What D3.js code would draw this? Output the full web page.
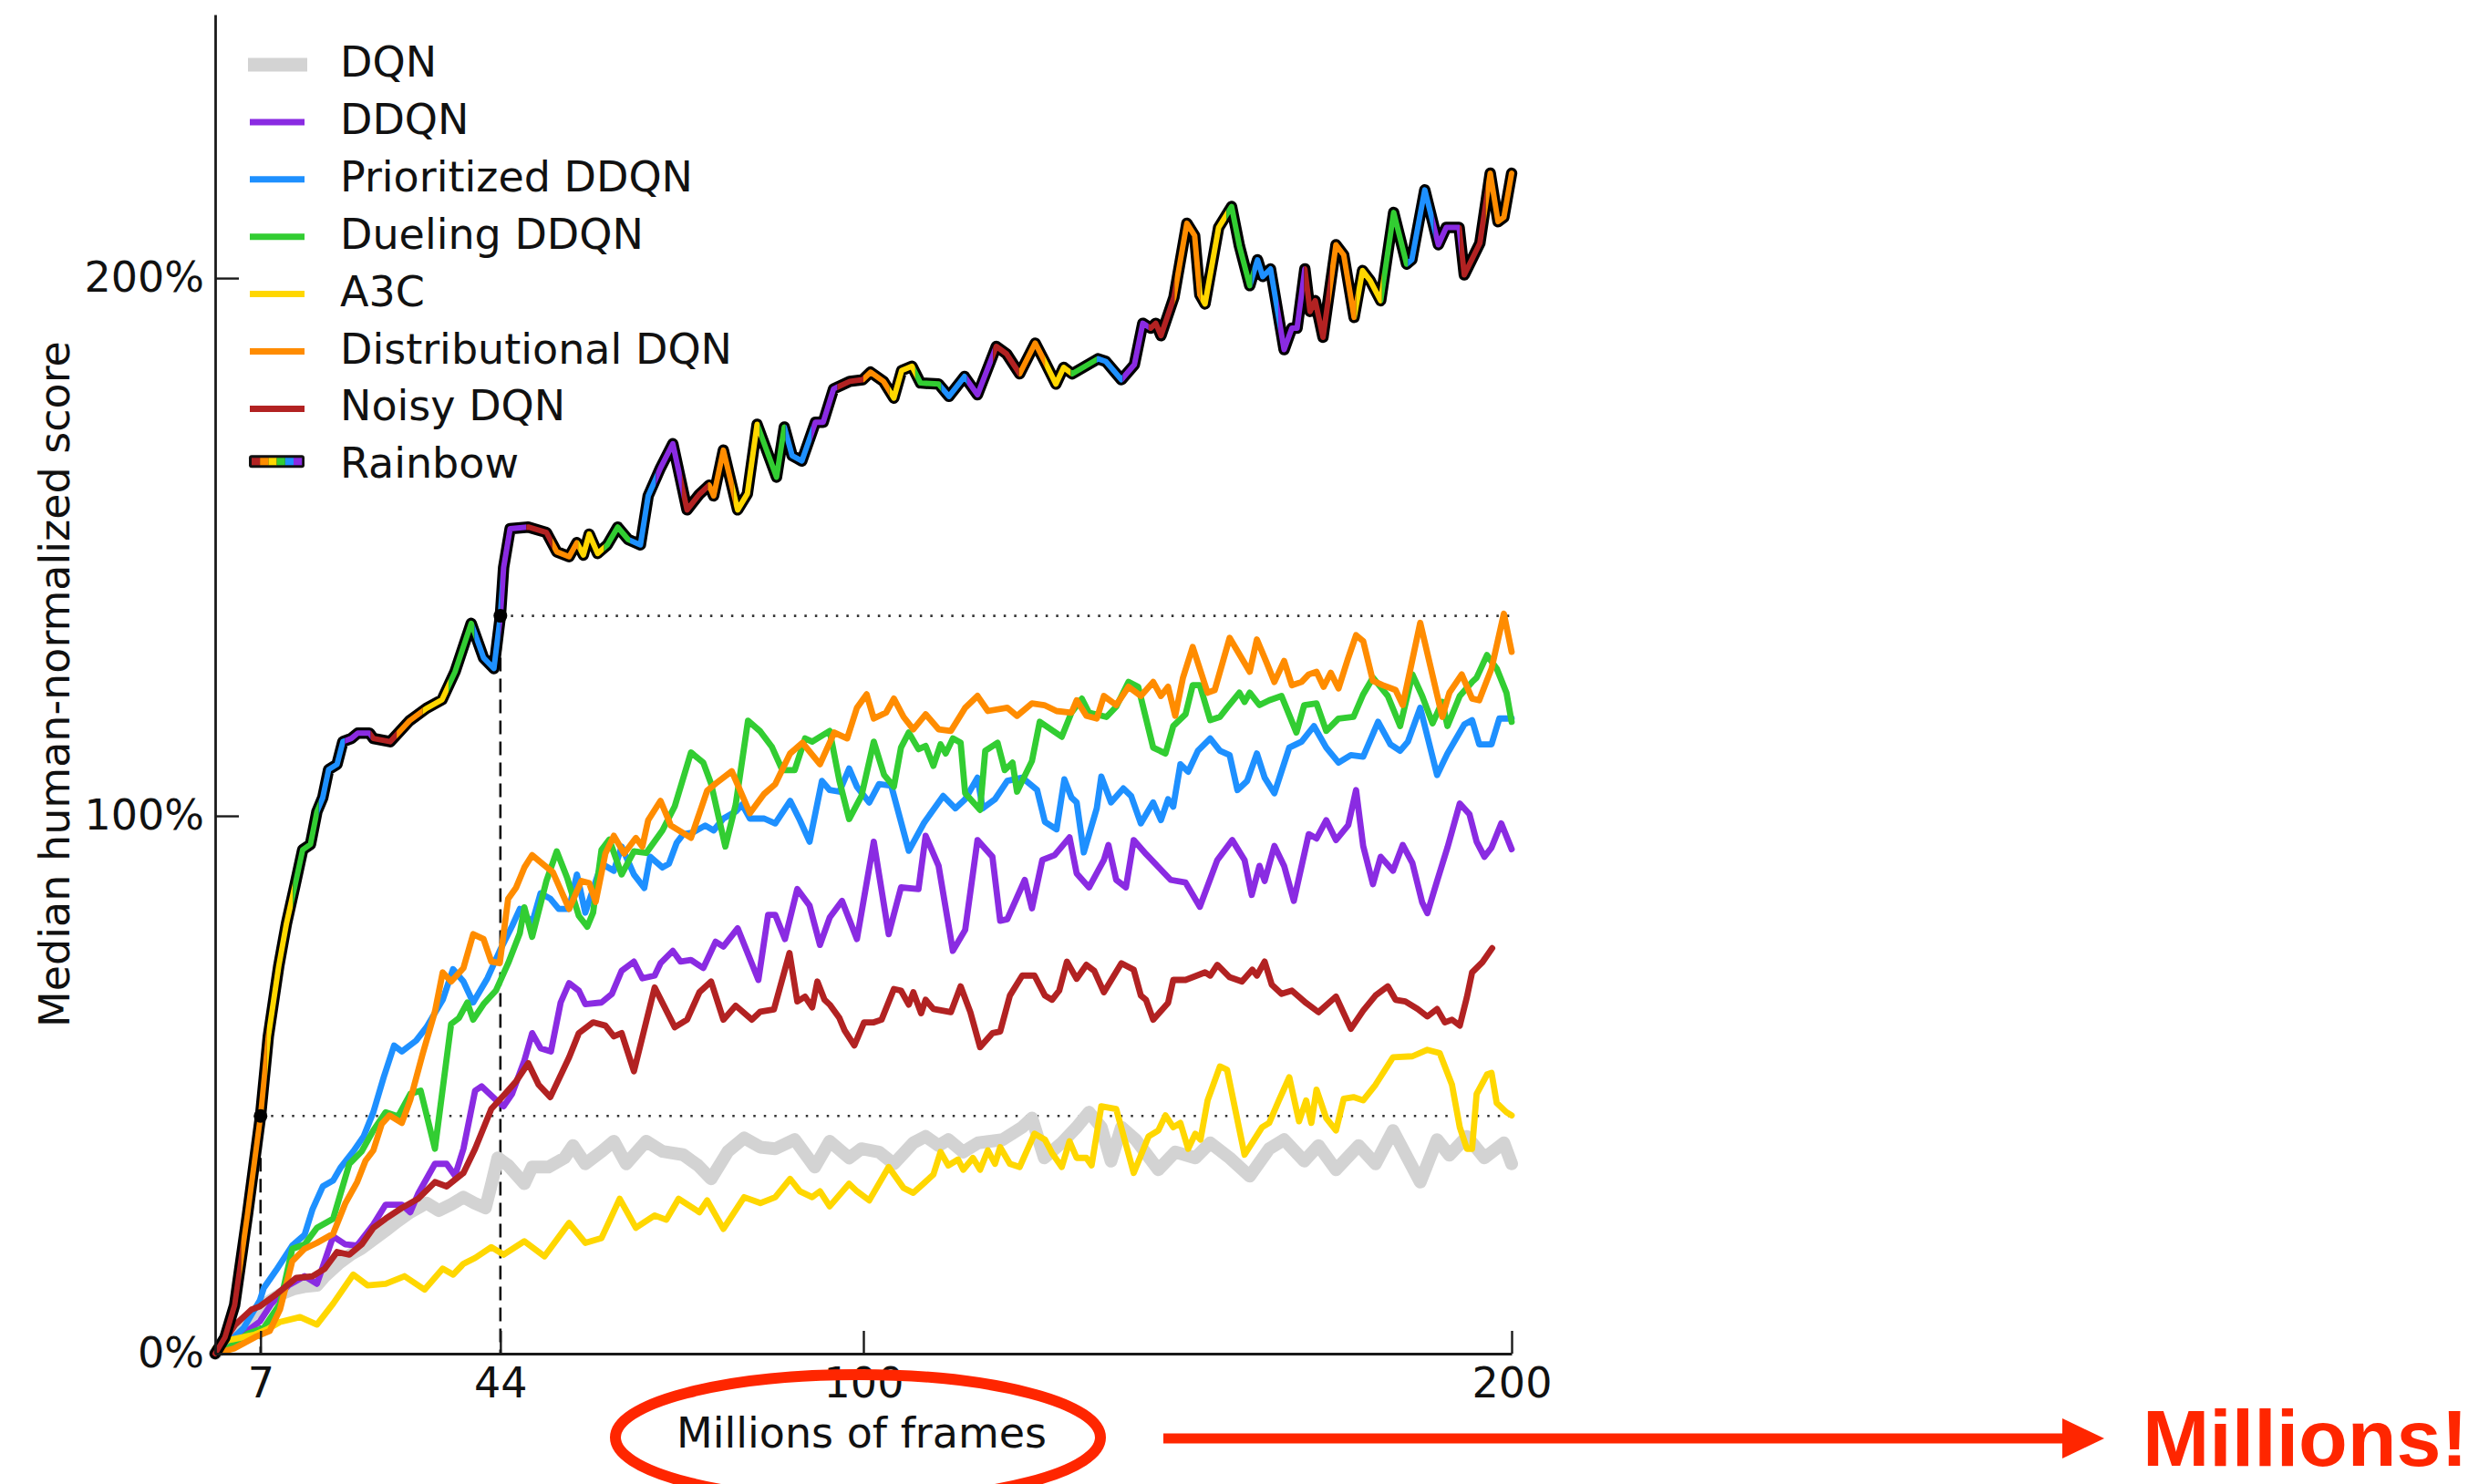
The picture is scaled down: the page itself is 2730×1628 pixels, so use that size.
<!DOCTYPE html>
<html>
<head>
<meta charset="utf-8">
<script src="https://cdn.jsdelivr.net/npm/d3@7/dist/d3.min.js"></script>
<style>
  html, body { margin: 0; padding: 0; background: #fff; }
  svg { display: block; }
</style>
</head>
<body>
<script>
// Median human-normalized score (%) against millions of training frames.
// Each series is a list of [frames (M), score (%)] samples.

const dqn = [[0,0],[2,2],[4,5],[6,7.5],[8,9.5],[10,11],[12,12],[14,12.5],[15.7,12.7],[17,14.5],[19,16.7],[21,18.5],[22.5,19.5],[24.4,21.2],[26.3,22.9],[28,24.5],[30.1,26.3],[32.6,28],[34.5,26.6],[36.5,27.8],[38.3,29.1],[40,28],[41.7,27.1],[42.6,31.4],[43.6,36.4],[45.2,35],[47.7,31.6],[48.9,34.7],[51.4,34.7],[53.9,36.4],[55.2,38.7],[57.1,35.3],[59.5,37.5],[61.5,39.5],[63.4,35.3],[66.5,39.5],[69,37.6],[72.2,37],[74.5,35],[76.5,32.5],[79.1,37.6],[81.6,40.1],[84.1,38.4],[86.4,38.1],[89.4,39.8],[92.5,34.7],[94.8,39.5],[97.8,36.4],[99.7,38.1],[102.4,37.5],[104.7,35.3],[107.7,39.2],[109.6,40.4],[111.6,38.7],[113.1,39.8],[115.4,37.5],[117.7,39.2],[121.5,39.8],[124.5,42.1],[126,43.8],[127.9,36.4],[130.6,39.2],[132.9,42.1],[134.8,44.9],[136.7,42.1],[138.2,35.8],[139.8,42.1],[142,39.8],[145.5,34.2],[148.1,37.5],[151.2,36.4],[153.5,39.2],[156.5,36.4],[159.6,33],[162.6,38.1],[164.9,39.8],[168,35.8],[170.2,38.7],[172.9,34.2],[176.4,38.7],[179,35.3],[181.7,41.5],[185.9,31.9],[188.5,39.8],[190.4,36.9],[193.1,40.4],[195.8,36.4],[198.8,39.2],[200,35.3]];

const ddqn = [[0,0],[2,1.5],[4.4,3.7],[6.9,6],[8.7,9.3],[11.3,12.7],[13.8,14.4],[15.7,13],[18.2,21.8],[20.1,20.3],[21.9,20.1],[24.4,24],[26.3,27.7],[28.8,27.7],[30.1,26.3],[31.3,29.7],[33.9,35.3],[35.7,35.3],[37,33.1],[38.3,38.1],[40.1,48.9],[41.1,49.7],[43.3,47.2],[44.5,46],[45.8,48.3],[47.7,54.5],[48.9,59.6],[50.2,56.8],[51.8,56.2],[53.3,65.3],[54.6,68.9],[56.1,67.5],[57.1,65],[59.6,65.3],[61.2,66.9],[62.7,71.2],[64.6,72.9],[65.9,69.8],[67.8,70.3],[68.7,72.6],[70.6,74.9],[71.8,72.9],[73.4,73.2],[75.3,71.7],[77.2,76.6],[78.4,75.7],[80.6,79.1],[83.8,69.5],[85.3,81.6],[86.4,81.6],[87.9,77.1],[89.8,86.4],[91.7,83.3],[93.3,76],[94.8,81.1],[96.7,84.2],[99,77.1],[101.6,95.2],[103.9,78],[105.8,86.7],[108.5,86.4],[109.6,96.3],[111.6,90.7],[113.8,74.9],[115.7,78.8],[117.6,95.5],[119.9,92.4],[121.1,80.5],[122.2,80.8],[124.9,88.1],[126,82.8],[127.6,91.8],[129.5,92.7],[131.8,96],[132.9,89.3],[134.8,86.7],[137.1,91.8],[137.8,94.6],[139,88.1],[140.5,86.7],[141.7,95.5],[143.6,92.9],[147.4,88.1],[149.7,87.6],[151.9,83.1],[154.6,91.8],[156.9,95.5],[158.8,91.8],[159.9,85.3],[161.1,90.7],[161.9,87.9],[163.4,94.4],[164.9,90.7],[166.4,84.2],[168.7,96.6],[169.9,95.8],[171.4,99.2],[172.9,95.5],[174.8,98.3],[176,104.8],[177.1,94.4],[178.6,87.3],[179.8,92.4],[181.7,89.8],[183.2,94.6],[184.7,91.2],[186.2,83.9],[187,81.9],[188.5,87.9],[190.1,94.1],[192,102.3],[193.5,100.3],[194.6,95.2],[195.8,92.4],[196.9,94.1],[198.4,98.6],[200,93.8]];

const prioritizedDdqn = [[0,0],[2,2],[4.4,4.8],[6.9,9.9],[7.5,12.2],[9.4,15.5],[11.9,20.1],[13.8,22.1],[15,26.8],[16.6,31.1],[18.2,32.2],[19.4,34.7],[21.3,37.6],[22.9,40.4],[24.4,44.9],[26,51.4],[27.6,57.3],[28.8,56.2],[31,58.2],[32.6,60.7],[35.1,65.8],[36.7,71.5],[38.3,69.2],[39.8,65.3],[42,69.8],[43.9,74.9],[45.8,79.5],[47,82.7],[48.9,80.1],[50.2,85.6],[51.7,84.6],[53,82.7],[54.6,82.7],[55.8,89.1],[57.1,82],[59.6,91.1],[61.5,89.8],[62.7,94.3],[64.6,89.1],[66.2,86.6],[67.1,92.4],[69,90.4],[70,91.1],[71.2,95],[72.2,96.6],[73.7,96.9],[75.6,98.2],[76.9,97.3],[78.4,99.5],[80.3,100.8],[81.3,102.1],[82.5,99.5],[84.7,99.5],[86.4,98.6],[88.7,102.8],[90.2,99.2],[91.7,95.2],[93.6,106.5],[94.8,104.8],[96.3,104.5],[97.8,108.8],[99,105.4],[100.9,102.5],[102.4,105.9],[104.3,105.6],[107,93.5],[109.3,98.6],[112.3,103.7],[114.2,101.4],[115.7,103.1],[117.6,107.1],[118.4,101.4],[120.3,103.1],[122.2,106.5],[124.5,107.1],[126.8,104.8],[128,98.9],[129.8,97.5],[131,106.8],[132.1,103.4],[132.9,102.5],[134,93.2],[136,101.4],[136.7,107.3],[138.2,102.5],[140.1,105.1],[141.3,103.7],[142.8,98.6],[144.7,102.5],[145.9,99.2],[147,103.1],[147.8,101.7],[148.9,109.6],[150.1,108.2],[151.6,112.1],[153.5,114.4],[155,112.1],[156.5,111.3],[157.7,104.8],[159.2,106.5],[160.7,111.6],[161.9,107.1],[163.4,104.2],[165.7,112.7],[167.6,113.8],[169.5,116.7],[171.4,112.7],[173.3,109.9],[175.2,111.3],[177.1,111],[179.4,117.5],[181.3,113.3],[182.8,112.1],[184,113.8],[185.9,120.1],[188.5,107.6],[190.1,111.6],[192.7,117],[193.9,117.8],[195,113.3],[196.9,113.3],[198.1,118.1],[200,118.1]];

const duelingDdqn = [[0,0],[2,1],[5,3.7],[7.5,4.8],[10,9.3],[11.9,19.5],[13.8,20.3],[15.7,23.4],[18.2,25.1],[20.7,35.3],[22.6,37.6],[24.4,41.5],[26.3,44.9],[28.2,44.1],[30.1,48.3],[31.7,48.9],[33.9,38.1],[36.4,61.3],[37.6,62.4],[38.9,65.3],[39.8,62.1],[41.4,65],[43.3,67.5],[45.2,72.6],[47,78.2],[47.7,83],[48.9,77.5],[51.1,87.9],[52.7,93.4],[54.3,88.5],[56.1,81.4],[57.4,79.4],[58.3,82],[59.6,93.7],[60.8,95.6],[62.7,89.1],[64.6,93.4],[66.5,93.1],[69,97.3],[70.9,101.8],[73.4,111.8],[75.3,109.9],[76.5,106],[78.7,94.3],[80.3,102.1],[82.2,117.7],[84.1,115.7],[85.9,112.8],[87.5,108.5],[89.4,108.5],[91,114.4],[92.1,113.8],[93.3,114.7],[94.8,115.8],[96.3,106.5],[97.8,99.4],[99.7,103.7],[101.6,113.8],[103.2,107.6],[104.7,105.4],[105.8,112.7],[107,115.5],[108.5,112.4],[109.6,113],[110.8,109.3],[111.9,113.3],[112.7,111.6],[113.8,114.4],[115,113.6],[115.7,104.2],[118,101.1],[118.8,112.1],[120.7,113.6],[121.8,108.5],[123,109.9],[123.7,104.5],[126,110.2],[127.2,117.5],[130.6,114.7],[132.1,119.2],[133.7,121.8],[134.8,119.2],[137.5,118.4],[139,120.3],[140.9,124.9],[142.4,124],[144.7,112.7],[146.6,111.6],[147.8,116.7],[149.7,118.9],[150.8,124.3],[151.9,124.3],[153.5,117.8],[155,118.4],[156.1,120.1],[158,122.9],[158.8,121.2],[159.6,122.9],[161.1,120.6],[162.6,121.5],[164.5,122.3],[166.8,115.5],[168,120.6],[169.9,120.9],[171.4,115.8],[173.3,118.1],[175.6,118.4],[177.1,122.6],[178.6,125.7],[180.9,122.3],[182.8,116.7],[184.7,126.3],[186.2,122.3],[187.8,117.2],[189.3,121.2],[190.1,116.7],[192,122.3],[193.9,124.9],[194.6,125.7],[196.2,129.9],[197.7,127.4],[199.2,122.9],[200,117.5]];

const a3c = [[0,1],[2,2.5],[4,3],[6,3.5],[8,4.5],[10,5.9],[13.1,6.8],[15.7,5.4],[18.2,9.3],[21.3,14.7],[23.5,12.7],[26.3,13],[29.2,14.4],[32.3,11.9],[35.1,15.8],[36.7,14.7],[38.3,16.7],[40.1,17.8],[42.6,19.8],[44.5,18.4],[47.7,20.9],[50.8,18.1],[54.6,24.3],[57.1,20.6],[59.6,21.5],[62.4,28.8],[64.9,23.4],[67.8,25.7],[69.6,24.9],[71.5,28.8],[74.7,26.3],[75.9,28.5],[78.4,23.2],[81.6,29.1],[84.1,28],[86.4,29.1],[88.7,32.5],[90.2,30.2],[92.1,29.1],[93.3,30.2],[94.8,27.4],[97.8,31.6],[99,30.2],[100.9,28.5],[103.9,34.7],[106.2,30.8],[107.7,29.9],[110.8,33.3],[111.9,37.5],[113.1,35],[114.6,36.1],[115.4,34.2],[116.9,36.4],[118,34.2],[119.2,37.8],[120.3,35.3],[121.1,38.4],[122.6,35.3],[124.1,34.7],[126.4,40.9],[128,39.8],[129.1,37.3],[130.6,34.7],[131.8,39.5],[132.9,36.4],[134.4,36.4],[135.2,35],[136.7,46],[139,45.5],[141.7,33.6],[144,40.4],[145.5,41.5],[146.6,44.3],[147.8,42.1],[148.9,42.9],[150.1,38.1],[151.2,40.9],[152,39.8],[153.1,47.1],[155,53.4],[156.1,52.8],[158.8,37],[161.5,42.1],[162.6,42.9],[164.1,47.1],[165.7,51.4],[167.2,43.2],[168.3,47.1],[169.1,42.9],[169.9,49.1],[171.4,43.8],[172.9,41.5],[174.1,47.4],[175.6,47.7],[177.1,47.1],[179,50],[181.7,55.1],[184.7,55.3],[187,56.5],[188.9,55.9],[190.8,50],[192,42.1],[193.1,38.1],[193.9,38.1],[194.6,48.3],[196.2,51.9],[196.9,52.2],[197.7,46.6],[199.2,44.9],[200,44.3]];

const distributionalDqn = [[0,0],[3,1],[6.2,3.1],[8.4,4.2],[10,8.2],[11.9,17.2],[13.8,19.5],[15.7,20.6],[18.2,22.3],[20.1,28],[21.9,31.9],[23.2,35.9],[24.4,37.8],[25.7,42.7],[26.9,44.3],[28.8,42.9],[30.1,47.2],[32,55.7],[33.9,63.6],[35.1,70.9],[36.4,69.2],[38.3,71.7],[39.8,78],[41.4,77.1],[42.6,72.9],[43.9,72.6],[45.2,84.6],[46.4,86.6],[47.7,90.4],[48.9,92.7],[50.5,91.1],[52.1,89.5],[54.6,82.7],[56.5,87.9],[57.7,87.5],[58.7,84],[60.2,93],[61.5,96.3],[63.1,93],[64.9,95.9],[65.9,94.3],[66.8,99.2],[68.7,102.8],[70.3,98.2],[73.4,95.9],[75.9,104.7],[77.2,106],[79.7,108.3],[82.5,100.5],[84.7,104.1],[86.4,105.9],[88.7,111.6],[90.6,113.6],[93.3,109.6],[95.5,115.5],[97.5,114.4],[99,120.1],[100.5,122.6],[101.6,118.1],[103.5,119.2],[104.7,121.8],[106.2,118.4],[107.7,116.1],[109.6,118.9],[111.6,116.1],[113.5,115.8],[115.7,120.1],[117.6,122.3],[119.2,119.5],[122.2,120.1],[123.7,118.6],[126,120.9],[127.9,120.6],[129.8,119.5],[132.1,119.2],[132.9,121.5],[134.4,118.6],[136,118.1],[137.1,122.3],[139,120.6],[140.9,124],[142.8,122.3],[144.7,124.9],[145.9,122.3],[147,124],[148.1,118.6],[149.3,125.7],[150.8,131.4],[153.1,122.9],[154.2,123.4],[156.5,133.1],[159.6,126.8],[160.7,132.8],[162.2,128.5],[163.4,124.9],[164.9,128.8],[166.1,124.3],[167.6,124.9],[168.7,126.3],[169.9,126.8],[171,124],[172.1,126.6],[173.3,123.7],[174.8,129.4],[176,133.6],[177.1,132.5],[178.6,125.1],[180.1,124.3],[182.1,123.4],[183.2,120.6],[185.9,135.9],[189.3,118.4],[190.4,122.9],[192.3,126.3],[193.9,121.8],[195,121.5],[196.9,127.4],[198.8,137.6],[200,130.5]];

const noisyDqn = [[0,0],[1.5,2.5],[3.1,5.4],[5.6,8.2],[6.9,8.8],[9.4,11],[12.5,14.1],[15,14.4],[16.9,15.8],[18.8,18.9],[20.7,18.4],[22.6,20.3],[24.4,23.4],[26.3,25.1],[28.8,27.1],[31.3,28.8],[33.9,31.9],[35.7,31.1],[38.3,33.6],[40.1,38.1],[42.6,45.5],[44.5,48],[46.4,50.6],[48.3,54],[49.9,50],[51.7,47.7],[54.6,55.1],[56.1,59.6],[58.3,61.6],[60.2,61],[61.5,59],[62.7,59.6],[64.6,52.5],[67.8,68.1],[70.9,60.7],[72.8,62.1],[74.7,67.2],[76.5,69.2],[78.4,62.1],[80.3,64.7],[82.8,62.1],[84.1,63.6],[86.2,64],[88.6,74.5],[89.8,65.5],[91,66.4],[92.1,64.4],[92.9,69.2],[94,65.8],[94.8,64.9],[96.3,62.4],[97.1,60.1],[98.6,57.3],[100.1,61.6],[101.6,61.6],[102.8,62.1],[104.7,67.8],[105.8,67.5],[107,64.9],[107.7,67.2],[108.9,63.3],[109.6,65.8],[110.8,64.1],[113.5,63.5],[115,68.3],[116.5,63.5],[118,57],[119.9,59.6],[121.1,59.9],[122.6,66.6],[124.5,70.3],[126.4,70.3],[128,66.6],[129.1,65.8],[130.2,67.5],[131.4,72.9],[132.9,69.7],[134.4,72.3],[135.6,71.2],[137.1,67.2],[139.8,72.6],[141.7,71.4],[142.8,66.6],[143.6,65.8],[144.7,62.1],[147,65.2],[147.8,69.5],[149.7,69.5],[150.8,70],[152.7,70.9],[153.5,70.3],[154.6,72.3],[156.5,70],[158.4,69.2],[160,71.4],[160.7,70.3],[161.9,72.9],[163,68.6],[164.5,66.9],[166.1,67.5],[168.3,65.2],[170.2,63.5],[172.9,66.4],[175.2,60.4],[177.1,63.8],[179,66.6],[180.9,68.3],[182.1,65.8],[183.6,65.5],[185.5,64.1],[187,62.7],[188.5,64.1],[189.7,61.6],[190.8,62.1],[192,61],[193.1,66.3],[193.9,70.9],[195.5,72.8],[197,75.4]];

const rainbow = [[0,0],[1.5,3],[3,9],[5,26],[7,44.2],[8.2,59],[9.8,72],[11,80],[12.3,87],[13.5,93.7],[14.7,94.7],[15.7,100.8],[16.6,103.4],[17.5,108.6],[18.8,109.6],[19.7,113.8],[21,114.4],[22,115.4],[23.8,115.4],[24.4,114.4],[27,113.8],[30,117.7],[32.6,120],[35,121.6],[37,126.8],[39.5,135.8],[41.4,129.4],[43,127.4],[44,137.2],[44.5,146.2],[45.5,153.4],[48.3,153.7],[51.1,152.7],[52.7,149.1],[54.6,148.2],[55.8,150.8],[56.8,148.5],[57.7,152.4],[59,148.8],[60.5,150.4],[62.1,153.7],[63.7,151.4],[65.6,150.4],[66.8,159.5],[68.7,164.7],[70.6,169.2],[72.8,156.9],[74.7,159.8],[76.2,161.5],[76.9,159.5],[78.4,168],[80.6,156.9],[82.1,159.9],[83.6,172.8],[86.6,163],[87.8,172.3],[89,167],[90.5,166],[92.6,173.2],[93.8,173.2],[95.4,179.4],[97.9,180.8],[99.9,181.1],[101.1,182.5],[103.1,180.8],[104.7,177.7],[105.9,182.8],[107.5,183.6],[108.8,180.5],[111.6,180.3],[113.2,178],[115.6,181.7],[117.6,178.3],[120.5,187.3],[122.1,185.9],[124.1,182.2],[126.5,187.9],[128.1,184.2],[129.7,180.3],[130.9,183.4],[132.2,182.2],[136.2,185],[137.4,184.5],[139.8,181.1],[141.8,183.9],[143.1,191.6],[144.3,190.7],[145.1,191.6],[145.9,189.3],[147.9,196.4],[149.9,210.2],[151.1,207.9],[151.9,196.9],[152.7,195.2],[154.8,209.4],[156.8,213.3],[158,206],[159.6,198.6],[160.8,203.4],[161.6,200.3],[162.8,201.7],[164.9,186.7],[166.1,190.7],[166.9,190.7],[168.1,201.7],[168.9,193.8],[169.7,195.8],[170.9,189],[172.9,206.2],[174.1,204.3],[175.7,192.7],[177,201.4],[178.2,199.5],[179.8,195.8],[181.8,212.2],[183.8,202.6],[184.6,203.4],[186.6,216.4],[188.7,206.2],[189.9,209.4],[191.9,209.4],[192.7,200.6],[195.1,206.5],[196.7,219.5],[197.9,210.5],[198.8,211.3],[200,219.5]];

// Where Rainbow first reaches the final DQN score and the best baseline score.
const milestones = [{ frames: 7, score: 44.2 }, { frames: 44, score: 137.2 }];

const seriesNames = ["DQN", "DDQN", "Prioritized DDQN", "Dueling DDQN", "A3C", "Distributional DQN", "Noisy DQN", "Rainbow"];
const seriesData = [dqn, ddqn, prioritizedDdqn, duelingDdqn, a3c, distributionalDqn, noisyDqn];
const seriesColors = ["#d3d3d3", "#8a2be2", "#1e90ff", "#32cd32", "#ffd700", "#ff8c00", "#b22222"];
const seriesWidths = [14, 6.8, 6.8, 6.8, 6.8, 6.8, 6.8];
const rainbowColors = ["#b22222", "#ff8c00", "#ffd700", "#32cd32", "#1e90ff", "#8a2be2"];
const rainbowSegment = 4; // millions of frames per colour band

const xTicks = [7, 44, 100, 200];
const yTicks = [0, 100, 200];
const xLabel = "Millions of frames";
const yLabel = "Median human-normalized score";
const callout = "Millions!";

const W = 2730, H = 1628;
const FONT = "'DejaVu Sans', sans-serif";
const FS = "46px";
const RED = "#ff2600";

const svg = d3.select("body").append("svg")
  .attr("width", W).attr("height", H)
  .attr("viewBox", `0 0 ${W} ${H}`);
svg.append("rect").attr("width", W).attr("height", H).attr("fill", "#fff");

const x = d3.scaleLinear().domain([0, 200]).range([236, 1658]);
const y = d3.scaleLinear().domain([0, 249]).range([1485, 16]);

const line = d3.line().x(d => x(d[0])).y(d => y(d[1]));

// Reference lines from the milestone points
const refs = svg.append("g");
milestones.forEach(m => {
  refs.append("line")
    .attr("x1", x(m.frames)).attr("x2", x(200))
    .attr("y1", y(m.score)).attr("y2", y(m.score))
    .attr("stroke", "#333").attr("stroke-width", 2.6)
    .attr("stroke-dasharray", "2.5,9");
  refs.append("line")
    .attr("x1", x(m.frames)).attr("x2", x(m.frames))
    .attr("y1", y(m.score)).attr("y2", y(0))
    .attr("stroke", "#111").attr("stroke-width", 2.6)
    .attr("stroke-dasharray", "15,8");
});

// Baseline agents
const lines = svg.append("g").attr("fill", "none")
  .attr("stroke-linejoin", "round").attr("stroke-linecap", "round");
seriesData.forEach((data, i) => {
  lines.append("path")
    .attr("d", line(data))
    .attr("stroke", seriesColors[i])
    .attr("stroke-width", seriesWidths[i]);
});

// Rainbow: black casing with colour bands cycling every few million frames
const defs = svg.append("defs");
const nBands = Math.ceil(200 / rainbowSegment);
const rb = svg.append("g").attr("fill", "none")
  .attr("stroke-linejoin", "round").attr("stroke-linecap", "round");
rb.append("path").attr("d", line(rainbow))
  .attr("stroke", "#000").attr("stroke-width", 12.5);
for (let k = 0; k < nBands; k++) {
  const id = "band" + k;
  const x0 = k === 0 ? x(0) - 20 : x(k * rainbowSegment);
  const x1 = k === nBands - 1 ? x(200) + 20 : x((k + 1) * rainbowSegment);
  defs.append("clipPath").attr("id", id)
    .append("rect")
    .attr("x", x0).attr("y", 0)
    .attr("width", x1 - x0).attr("height", H);
  rb.append("path").attr("d", line(rainbow))
    .attr("clip-path", `url(#${id})`)
    .attr("stroke", rainbowColors[k % rainbowColors.length])
    .attr("stroke-width", 6);
}

// Milestone markers
svg.append("g").selectAll("circle").data(milestones).join("circle")
  .attr("cx", d => x(d.frames)).attr("cy", d => y(d.score))
  .attr("r", 7.5).attr("fill", "#000");

// Axes
const xAxis = d3.axisBottom(x).tickValues(xTicks).tickFormat(d3.format("d"))
  .tickSizeInner(-25).tickSizeOuter(0).tickPadding(15);
const yAxis = d3.axisLeft(y).tickValues(yTicks).tickFormat(d => d + "%")
  .tickSizeInner(-26).tickSizeOuter(0).tickPadding(12);

const gx = svg.append("g").attr("transform", `translate(0,${y(0)})`).call(xAxis);
const gy = svg.append("g").attr("transform", `translate(${x(0)},0)`).call(yAxis);
[gx, gy].forEach(g => {
  g.select(".domain").attr("stroke", "#1a1a1a").attr("stroke-width", 2.8);
  g.selectAll(".tick line").attr("stroke", "#1a1a1a").attr("stroke-width", 2.4);
  g.selectAll(".tick text").attr("fill", "#111")
    .style("font-family", FONT).style("font-size", FS);
});

// Axis titles
svg.append("text")
  .attr("x", (x(0) + x(200)) / 2 - 2).attr("y", 1588)
  .attr("text-anchor", "middle")
  .style("font-family", FONT).style("font-size", FS).attr("fill", "#111")
  .text(xLabel);
svg.append("text")
  .attr("transform", `translate(76,${(y(0) + y(249)) / 2}) rotate(-90)`)
  .attr("text-anchor", "middle")
  .style("font-family", FONT).style("font-size", FS).attr("fill", "#111")
  .text(yLabel);

// Legend
const legend = svg.append("g");
const rowY = i => 68 + 62.9 * i;
seriesNames.forEach((name, i) => {
  const cy = rowY(i);
  if (i < seriesColors.length) {
    legend.append("line")
      .attr("x1", i === 0 ? 272 : 274).attr("x2", i === 0 ? 337 : 334)
      .attr("y1", cy + 3).attr("y2", cy + 3)
      .attr("stroke", seriesColors[i])
      .attr("stroke-width", i === 0 ? 15 : 7);
  } else {
    legend.append("rect")
      .attr("x", 273).attr("y", cy - 9).attr("width", 61).attr("height", 14)
      .attr("rx", 3).attr("fill", "#111");
    rainbowColors.forEach((c, j) => {
      legend.append("rect")
        .attr("x", 276 + j * 9.2).attr("y", cy - 6)
        .attr("width", 9.2).attr("height", 8).attr("fill", c);
    });
  }
  legend.append("text")
    .attr("x", 373).attr("y", cy + 16)
    .style("font-family", FONT).style("font-size", FS).attr("fill", "#111")
    .text(name);
});

// Callout: circled axis title with an arrow to the note
const note = svg.append("g");
note.append("ellipse")
  .attr("cx", 941).attr("cy", 1577).attr("rx", 266).attr("ry", 69)
  .attr("fill", "none").attr("stroke", RED).attr("stroke-width", 12);
note.append("line")
  .attr("x1", 1276).attr("x2", 2264).attr("y1", 1578).attr("y2", 1578)
  .attr("stroke", RED).attr("stroke-width", 11);
note.append("path")
  .attr("d", "M2262,1556 L2308,1578 L2262,1600 Z").attr("fill", RED);
note.append("text")
  .attr("x", 2350).attr("y", 1608)
  .style("font-family", "'Liberation Sans', Arial, Helvetica, sans-serif")
  .style("font-weight", "bold").style("font-size", "88px")
  .attr("fill", RED)
  .text(callout);
</script>
</body>
</html>
